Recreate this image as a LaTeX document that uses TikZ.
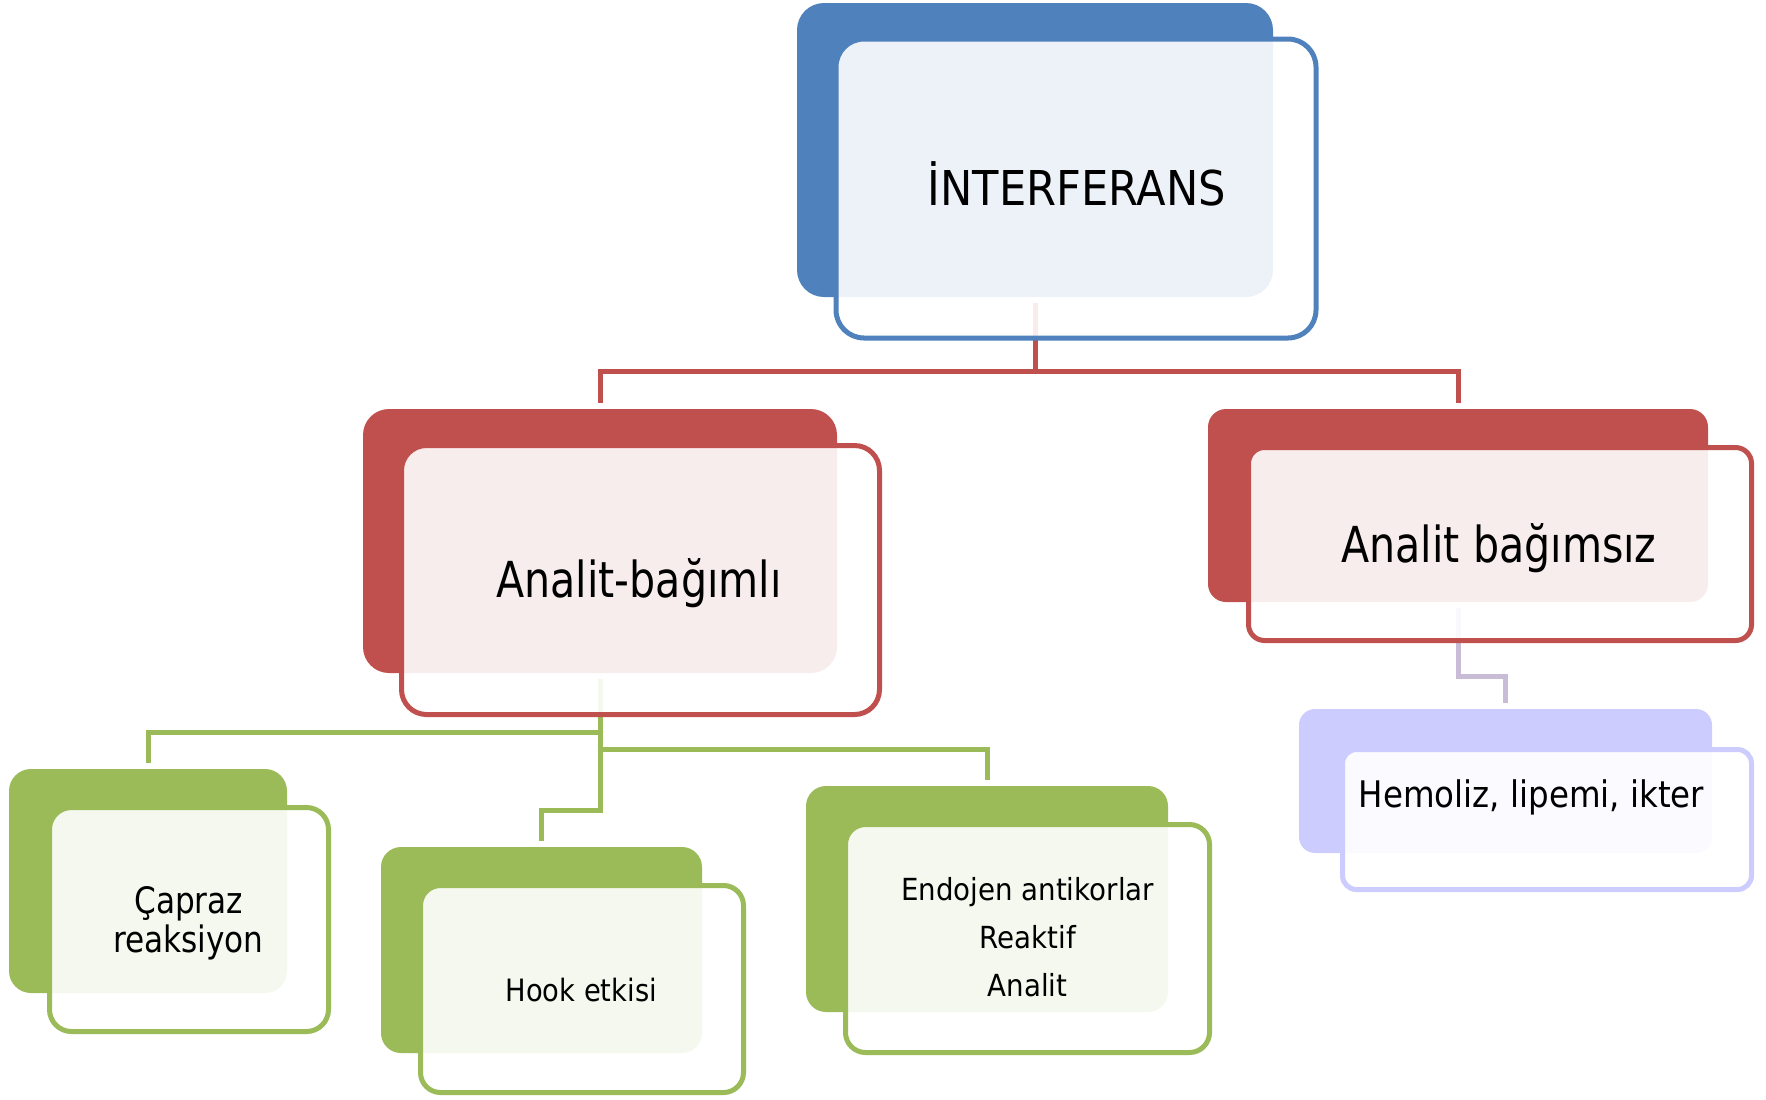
\documentclass[tikz,border=0pt]{standalone}
\usepackage{fontspec}
\usepackage{graphicx}
\setmainfont{DejaVu Sans}
\definecolor{blueC}{HTML}{4F81BD}
\definecolor{redC}{HTML}{C0504D}
\definecolor{greenC}{HTML}{9BBB59}
\definecolor{lavC}{HTML}{CCCCFF}
\definecolor{mauveC}{HTML}{C8BCD6}
\newcommand{\sx}[2]{\scalebox{#1}[1]{#2}}
\tikzset{
  bk/.style={rectangle, inner sep=0pt, draw=none},
  fr/.style={rectangle, inner sep=0pt, fill=white, fill opacity=0.9, line width=2.5pt},
  conn/.style={line width=2.5pt, shorten <=3pt, shorten >=3pt},
  txt/.style={anchor=base, inner sep=0pt, text=black},
}
\begin{document}
\begin{tikzpicture}[x=0.5pt,y=-0.5pt]
\useasboundingbox (0,0) rectangle (1766,1099);
% back rectangles
\node[bk, fill=blueC, minimum width=238pt, minimum height=147pt, rounded corners=13.5pt] (topB) at (1035,150) {};
\node[bk, fill=redC, minimum width=237pt, minimum height=132pt, rounded corners=13pt] (aB) at (600,541) {};
\node[bk, fill=redC, minimum width=250pt, minimum height=96.5pt, rounded corners=9pt] (bB) at (1458,505.5) {};
\node[bk, fill=lavC, minimum width=206.5pt, minimum height=72pt, rounded corners=8pt] (hemB) at (1505.5,781) {};
\node[bk, fill=greenC, minimum width=139pt, minimum height=112pt, rounded corners=11pt] (cB) at (148,881) {};
\node[bk, fill=greenC, minimum width=160.5pt, minimum height=103pt, rounded corners=10pt] (hB) at (541.5,950) {};
\node[bk, fill=greenC, minimum width=181pt, minimum height=113pt, rounded corners=10pt] (eB) at (987,899) {};
% connector levels
\coordinate (y1) at (0,371);
\coordinate (y2) at (0,732.5);
\coordinate (y3) at (0,749.5);
\coordinate (y4) at (0,810);
\coordinate (y5) at (0,676);
\draw[conn, draw=redC] (topB.south) -- (topB.south |- y1) -| (aB.north);
\draw[conn, draw=redC] (topB.south) -- (topB.south |- y1) -| (bB.north);
\draw[conn, draw=greenC] (aB.south) -- (aB.south |- y2) -| (cB.north);
\draw[conn, draw=greenC] (aB.south) -- (aB.south |- y3) -| (eB.north);
\draw[conn, draw=greenC] (aB.south) -- (aB.south |- y4) -| (hB.north);
\draw[conn, draw=mauveC] (bB.south) -- (bB.south |- y5) -| (hemB.north);
% front rectangles
\node[fr, draw=blueC, minimum width=240pt, minimum height=149.5pt, rounded corners=14pt] (topF) at (1076,188.5) {};
\node[fr, draw=redC, minimum width=239pt, minimum height=134.5pt, rounded corners=12.5pt] (aF) at (640.5,580) {};
\node[fr, draw=redC, minimum width=251.5pt, minimum height=96.5pt, rounded corners=8pt] (bF) at (1500,544) {};
\node[fr, draw=lavC, minimum width=204.5pt, minimum height=70pt, rounded corners=7pt] (hemF) at (1547,819.5) {};
\node[fr, draw=greenC, minimum width=139.5pt, minimum height=112pt, rounded corners=11pt] (cF) at (189,919.5) {};
\node[fr, draw=greenC, minimum width=161.5pt, minimum height=103.5pt, rounded corners=10pt] (hF) at (582,989) {};
\node[fr, draw=greenC, minimum width=182pt, minimum height=114pt, rounded corners=10pt] (eF) at (1027.5,938.5) {};
% texts
\node[txt, font=\fontsize{24}{28}\selectfont] (tTop) at (1076.8,205) {\sx{0.90}{İNTERFERANS}};
\node[txt, font=\fontsize{24.8}{28}\selectfont] (tA) at (639,597) {\sx{0.83}{Analit-bağımlı}};
\node[txt, font=\fontsize{24.8}{28}\selectfont] (tB) at (1499,562) {\sx{0.83}{Analit bağımsız}};
\node[txt, font=\fontsize{18.3}{22}\selectfont] (tHem) at (1531.5,807) {\sx{0.887}{Hemoliz, lipemi, ikter}};
\node[txt, font=\fontsize{18.2}{22}\selectfont] (tC1) at (188.7,913) {\sx{0.855}{Çapraz}};
\node[txt, font=\fontsize{18.2}{22}\selectfont] (tC2) at (188.4,952) {\sx{0.855}{reaksiyon}};
\node[txt, font=\fontsize{15.4}{18}\selectfont] (tH) at (581.3,1001) {\sx{0.887}{Hook etkisi}};
\node[txt, font=\fontsize{15.2}{18}\selectfont] (tE1) at (1027.5,900) {\sx{0.91}{Endojen antikorlar}};
\node[txt, font=\fontsize{15.2}{18}\selectfont] (tE2) at (1027.6,948.3) {\sx{0.91}{Reaktif}};
\node[txt, font=\fontsize{15.2}{18}\selectfont] (tE3) at (1027.5,996.7) {\sx{0.91}{Analit}};
\end{tikzpicture}
\end{document}
